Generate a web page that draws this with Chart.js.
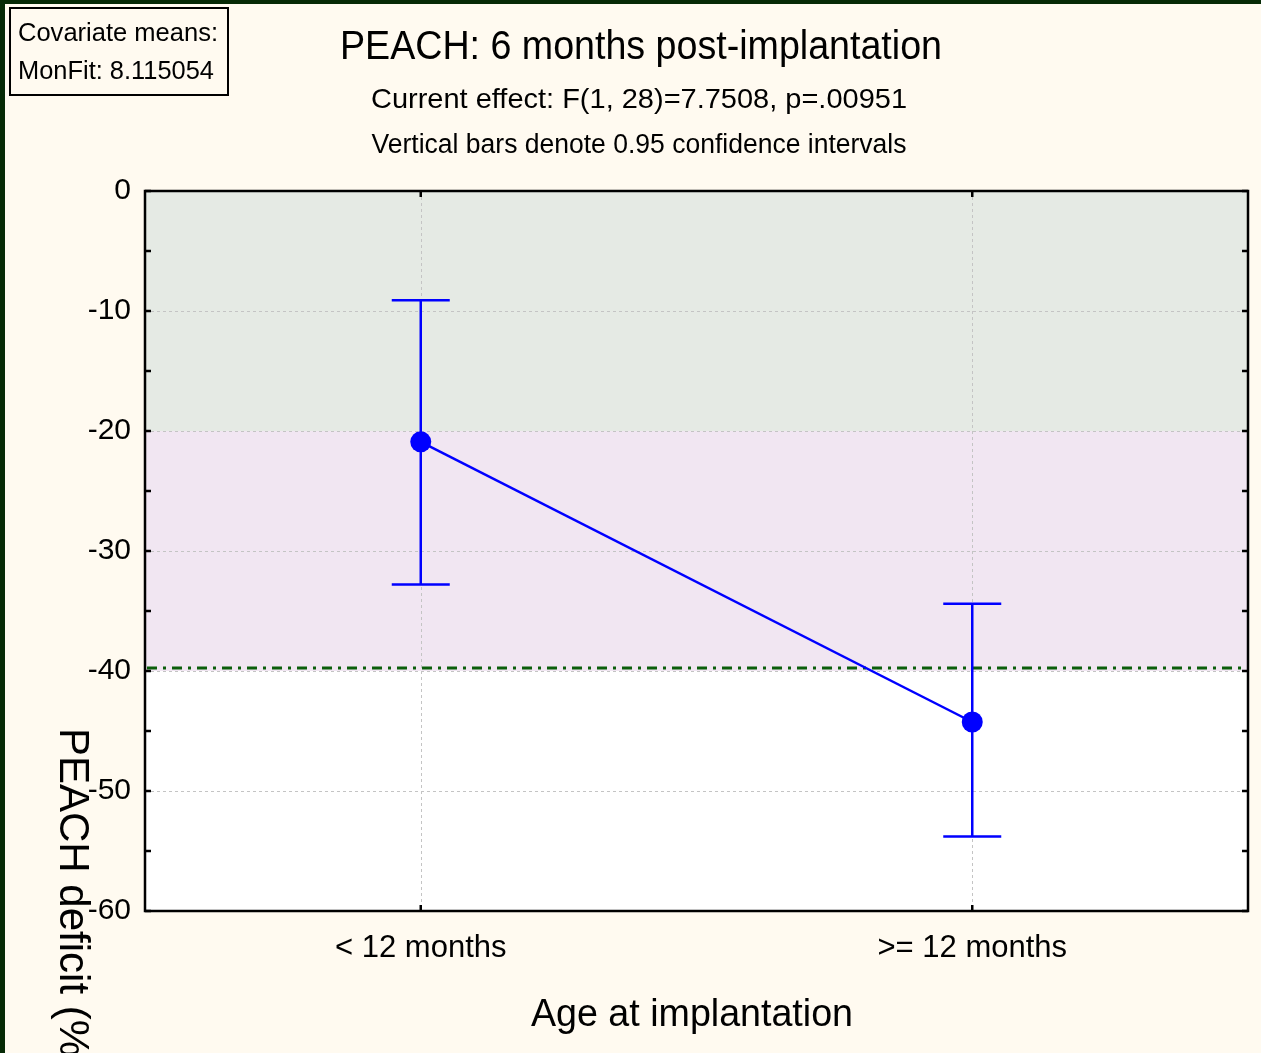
<!DOCTYPE html>
<html>
<head>
<meta charset="utf-8">
<script src="https://cdn.jsdelivr.net/npm/chart.js@4/dist/chart.umd.min.js"></script>
<style>
  html, body { margin: 0; padding: 0; background: #FFFAF0; }
  canvas { display: block; }
</style>
</head>
<body>
<canvas id="chart" width="1261" height="1053"></canvas>
<script>
// values
var categories = ['< 12 months', '>= 12 months'];
var means = [-20.9, -44.25];
var ciUpper = [-9.1, -34.4];
var ciLower = [-32.8, -53.8];
var bandEdges = [0, -20, -40, -60];
var refLevel = -39.75;
var yMin = -60;
var yMax = 0;
var yStep = 10;
var titleText = 'PEACH: 6 months post-implantation';
var subtitleLines = ['Current effect: F(1, 28)=7.7508, p=.00951', 'Vertical bars denote 0.95 confidence intervals'];
var covariateLines = ['Covariate means:', 'MonFit: 8.115054'];
var xTitle = 'Age at implantation';
var yTitle = 'PEACH deficit (%)';

var FONT = '"Liberation Sans", Arial, sans-serif';
var bandColors = ['#E5EAE4', '#F1E6F2', '#FFFFFF'];


// draw text squeezed/stretched to a given width
function fitText(ctx, text, x, y, size, width, align) {
  ctx.font = size + 'px ' + FONT;
  var w = ctx.measureText(text).width;
  var sx = width / w;
  ctx.save();
  ctx.translate(x, y);
  ctx.scale(sx, 1);
  ctx.textAlign = align || 'center';
  ctx.textBaseline = 'middle';
  ctx.fillText(text, 0, 0);
  ctx.restore();
}


var decor = {
  id: 'decor',
  beforeDraw: function(chart) {
    var ctx = chart.ctx;
    var a = chart.chartArea;
    var y = chart.scales.y;
    var x = chart.scales.x;
    ctx.save();
    ctx.fillStyle = '#FFFAF0';
    ctx.fillRect(0, 0, chart.width, chart.height);
    ctx.fillStyle = '#062A06';
    ctx.fillRect(0, 0, chart.width, 4);
    ctx.fillRect(0, 0, 5, chart.height);

    // shaded bands
    for (var i = 0; i < bandEdges.length - 1; i++) {
      var top = y.getPixelForValue(bandEdges[i]);
      var bottom = y.getPixelForValue(bandEdges[i + 1]);
      ctx.fillStyle = bandColors[i];
      ctx.fillRect(a.left, top, a.right - a.left, bottom - top);
    }

    // dotted grid
    ctx.strokeStyle = '#C4C4C4';
    ctx.lineWidth = 1;
    ctx.setLineDash([3, 3]);
    y.ticks.forEach(function(t) {
      var py = Math.round(y.getPixelForValue(t.value)) + 0.5;
      ctx.beginPath();
      ctx.moveTo(a.left, py);
      ctx.lineTo(a.right, py);
      ctx.stroke();
    });
    categories.forEach(function(c, i) {
      var px = Math.round(x.getPixelForValue(i)) + 0.5;
      ctx.beginPath();
      ctx.moveTo(px, a.top);
      ctx.lineTo(px, a.bottom);
      ctx.stroke();
    });
    ctx.restore();
  },
  beforeDatasetsDraw: function(chart) {
    var ctx = chart.ctx;
    var a = chart.chartArea;
    var y = chart.scales.y;
    var x = chart.scales.x;
    ctx.save();

    // dash-dot reference line
    var ry = y.getPixelForValue(refLevel);
    ctx.strokeStyle = '#0B5E0B';
    ctx.lineWidth = 3;
    ctx.setLineDash([10, 6, 3, 6]);
    ctx.beginPath();
    ctx.moveTo(a.left + 2, ry);
    ctx.lineTo(a.right - 2, ry);
    ctx.stroke();
    ctx.setLineDash([]);

    // confidence interval bars
    ctx.strokeStyle = '#0000FF';
    ctx.lineWidth = 2.5;
    for (var i = 0; i < categories.length; i++) {
      var px = x.getPixelForValue(i);
      var hi = y.getPixelForValue(ciUpper[i]);
      var lo = y.getPixelForValue(ciLower[i]);
      ctx.beginPath();
      ctx.moveTo(px, hi);
      ctx.lineTo(px, lo);
      ctx.moveTo(px - 29, hi);
      ctx.lineTo(px + 29, hi);
      ctx.moveTo(px - 29, lo);
      ctx.lineTo(px + 29, lo);
      ctx.stroke();
    }
    ctx.restore();
  },
  afterDraw: function(chart) {
    var ctx = chart.ctx;
    var a = chart.chartArea;
    var y = chart.scales.y;
    var x = chart.scales.x;
    ctx.save();

    // frame
    ctx.strokeStyle = '#000000';
    ctx.lineWidth = 2.5;
    ctx.strokeRect(a.left, a.top, a.right - a.left, a.bottom - a.top);

    // inward ticks, majors and minors on the value axes
    ctx.lineWidth = 2.5;
    ctx.beginPath();
    for (var v = yMax; v >= yMin; v -= yStep / 2) {
      var py = y.getPixelForValue(v);
      ctx.moveTo(a.left, py);
      ctx.lineTo(a.left + 6, py);
      ctx.moveTo(a.right, py);
      ctx.lineTo(a.right - 6, py);
    }
    for (var i = 0; i < categories.length; i++) {
      var px = x.getPixelForValue(i);
      ctx.moveTo(px, a.top);
      ctx.lineTo(px, a.top + 6);
      ctx.moveTo(px, a.bottom);
      ctx.lineTo(px, a.bottom - 6);
    }
    ctx.stroke();

    ctx.fillStyle = '#000000';
    // titles
    fitText(ctx, titleText, 641, 48, 40, 602);
    fitText(ctx, subtitleLines[0], 639, 100, 28, 536);
    fitText(ctx, subtitleLines[1], 639, 146, 27, 535);

    // covariate box
    ctx.lineWidth = 2;
    ctx.strokeRect(10, 8, 218, 87);
    fitText(ctx, covariateLines[0], 18, 34, 25, 200, 'left');
    fitText(ctx, covariateLines[1], 18, 72, 25, 196, 'left');

    // axis titles
    fitText(ctx, xTitle, 692, 1016, 38, 322);
    ctx.save();
    ctx.translate(72, 728);
    ctx.rotate(Math.PI / 2);
    ctx.font = '42px ' + FONT;
    ctx.textAlign = 'left';
    ctx.textBaseline = 'middle';
    ctx.fillText(yTitle, 0, 0);
    ctx.restore();

    ctx.restore();
  }
};


document.addEventListener('DOMContentLoaded', function() {
  new Chart(document.getElementById('chart'), {
    type: 'line',
    data: {
      labels: categories,
      datasets: [{
        label: 'Mean',
        data: means,
        borderColor: '#0000FF',
        backgroundColor: '#0000FF',
        borderWidth: 2.5,
        pointRadius: 10.5,
        pointBorderWidth: 0,
        pointBackgroundColor: '#0000FF',
        fill: false,
        tension: 0
      }]
    },
    options: {
      responsive: false,
      animation: false,
      layout: {
        padding: { top: 191, right: 13, left: 0, bottom: 0 }
      },
      plugins: {
        legend: { display: false },
        title: { display: false },
        tooltip: { enabled: false }
      },
      scales: {
        x: {
          type: 'category',
          offset: true,
          grid: { display: false, drawTicks: false },
          border: { display: false },
          ticks: {
            color: '#000000',
            padding: 19,
            font: { family: FONT, size: 31 }
          },
          afterFit: function(scale) { scale.height = 142; }
        },
        y: {
          type: 'linear',
          min: yMin,
          max: yMax,
          grid: { display: false, drawTicks: false },
          border: { display: false },
          ticks: {
            stepSize: yStep,
            color: '#000000',
            padding: 14,
            font: { family: FONT, size: 30 }
          },
          afterFit: function(scale) { scale.width = 145; }
        }
      }
    },
    plugins: [decor]
  });
});
</script>
</body>
</html>
